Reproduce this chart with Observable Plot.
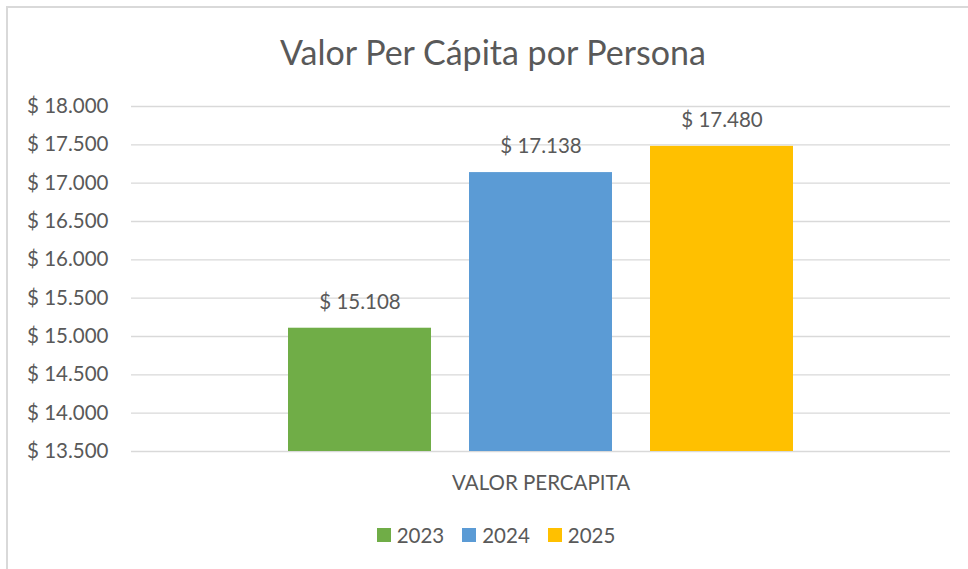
<!DOCTYPE html>
<html>
<head>
<meta charset="utf-8">
<script src="https://cdn.jsdelivr.net/npm/d3@7"></script>
<script src="https://cdn.jsdelivr.net/npm/@observablehq/plot@0.6"></script>
<style>
  html, body { margin: 0; padding: 0; background: #fff; }
  #page { position: relative; width: 968px; height: 569px; overflow: hidden; font-family: Lato, "Open Sans", sans-serif; color: #595959; }
  #frame { position: absolute; left: 6px; top: 6px; width: 980px; height: 600px; border: 2px solid #d9d9d9; box-sizing: border-box; pointer-events: none; }
  #title { height: 90px; box-sizing: border-box; padding-top: 31px; padding-left: 18px; font-size: 34px; line-height: 42px; text-align: center; }
  #legend { display: flex; justify-content: center; align-items: center; padding-left: 24px; padding-top: 13px; font-size: 20.5px; }
  .item { display: flex; align-items: center; margin: 0 9px; }
  .sw { width: 14px; height: 14px; margin-right: 6px; }
</style>
</head>
<body>
<div id="page">
  <div id="frame"></div>
  <div id="title">Valor Per Cápita por Persona</div>
  <div id="chart"></div>
  <div id="legend"></div>
</div>
<script>
const category = "VALOR PERCAPITA";
const years = ["2023", "2024", "2025"];
const values = [15108, 17138, 17480];
const colors = ["#70AD47", "#5B9BD5", "#FFC000"];
const yTicks = [13500, 14000, 14500, 15000, 15500, 16000, 16500, 17000, 17500, 18000];

const data = years.map((y, i) => ({category, year: y, value: values[i]}));
const money = d => "$ " + d3.format(",")(d).replace(/,/g, ".");

const chart = Plot.plot({
  width: 968,
  height: 420,
  marginTop: 16,
  marginBottom: 59,
  marginLeft: 131,
  marginRight: 18,
  style: {fontFamily: "Lato, 'Open Sans', sans-serif", fontSize: "20.5px", color: "#595959", background: "transparent", overflow: "visible"},
  fx: {domain: [category], padding: 0, label: null},
  x: {domain: years, paddingInner: 0.21, paddingOuter: 0.865, axis: null},
  y: {domain: [13500, 18000], ticks: yTicks, label: null},
  color: {domain: years, range: colors},
  marks: [
    Plot.gridY(yTicks, {stroke: "#d9d9d9", strokeOpacity: 1, strokeWidth: 1.3}),
    Plot.barY(data, {fx: "category", x: "year", y1: 13500, y2: "value", fill: "year"}),
    Plot.text(data, {fx: "category", x: "year", y: "value", text: d => money(d.value), dy: -26, lineAnchor: "middle", fill: "#595959"}),
    Plot.axisY(yTicks, {tickSize: 0, tickPadding: 23, tickFormat: money, label: null}),
    Plot.axisFx({anchor: "bottom", tickSize: 0, tickPadding: 24, label: null})
  ]
});
document.getElementById("chart").appendChild(chart);

const legend = document.getElementById("legend");
years.forEach((y, i) => {
  const it = document.createElement("div");
  it.className = "item";
  const sw = document.createElement("div");
  sw.className = "sw";
  sw.style.background = colors[i];
  const t = document.createElement("span");
  t.textContent = y;
  it.appendChild(sw);
  it.appendChild(t);
  legend.appendChild(it);
});
</script>
</body>
</html>
